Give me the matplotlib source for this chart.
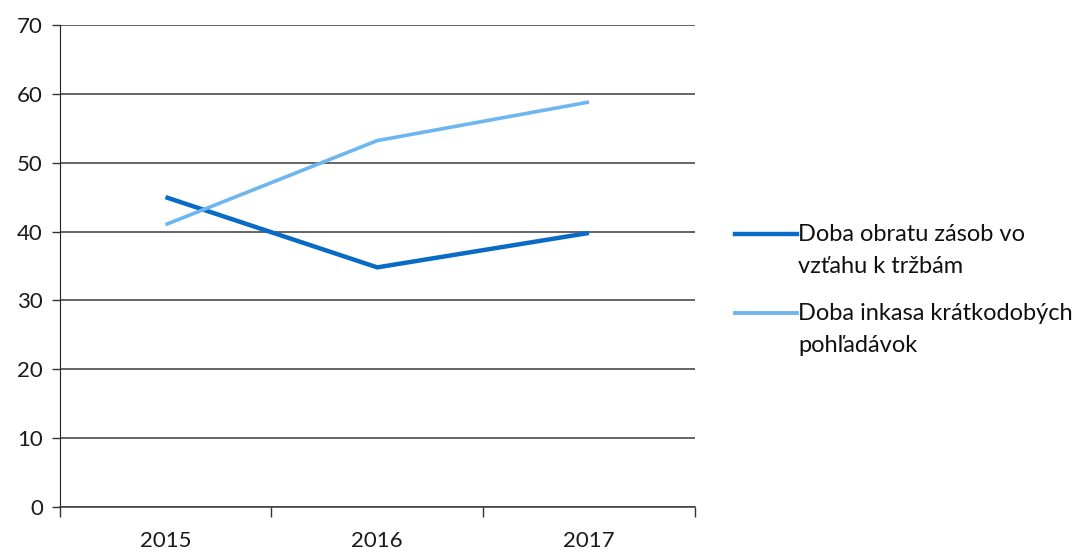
import matplotlib
matplotlib.use('Agg')
import matplotlib.pyplot as plt
from matplotlib.lines import Line2D

plt.rcParams['font.family'] = ['Lato', 'DejaVu Sans']

years = ['2015', '2016', '2017']
zasoby = [45, 34.8, 39.8]
pohladavky = [41, 53.2, 58.8]
labels = ['Doba obratu zásob vo\nvzťahu k tržbám', 'Doba inkasa krátkodobých\npohľadávok']
colors = ['#0A6BC4', '#6DB6F0']

fig = plt.figure(figsize=(10.84, 5.53), dpi=100)
ax = fig.add_axes([0.055, 0.083, 0.586, 0.872])

x = range(len(years))
ax.plot(x, zasoby, color=colors[0], lw=3.2, solid_capstyle='butt')
ax.plot(x, pohladavky, color=colors[1], lw=2.6, solid_capstyle='butt')

ax.set_xlim(-0.5, 2.5)
ax.set_ylim(0, 70)
ax.set_yticks(range(0, 71, 10))
ax.yaxis.grid(True, color='#3a3a3a', lw=1.1)
ax.set_axisbelow(True)

# category boundaries carry the tick marks, labels sit in the middle
ax.set_xticks([-0.5, 0.5, 1.5, 2.5])
ax.set_xticklabels([])
ax.set_xticks(list(x), minor=True)
ax.set_xticklabels(years, minor=True)
ax.tick_params(axis='x', which='major', length=7, width=1, color='#333333', direction='out')
ax.tick_params(axis='x', which='minor', length=0, pad=17, labelsize=16, labelcolor='#1a1a1a')
ax.tick_params(axis='y', length=6, width=1, color='#333333', labelsize=16, labelcolor='#1a1a1a', pad=6)

for s in ['top', 'right']:
    ax.spines[s].set_visible(False)
ax.spines['left'].set_color('#222222')
ax.spines['bottom'].set_color('#3a3a3a')
ax.spines['bottom'].set_linewidth(1.1)

# legend drawn to the right, handle aligned with first text line
ys = [1 - 234 / 553, 1 - 313 / 553]
for lab, c, yy, lw in zip(labels, colors, ys, [3.2, 2.8]):
    fig.add_artist(Line2D([735 / 1084, 797 / 1084], [yy, yy], color=c, lw=lw,
                          transform=fig.transFigure))
    fig.text(798 / 1084, yy + 0.018, lab, fontsize=17, color='#111111',
             va='top', ha='left', linespacing=1.65)

fig.savefig('out.png', dpi=100)
